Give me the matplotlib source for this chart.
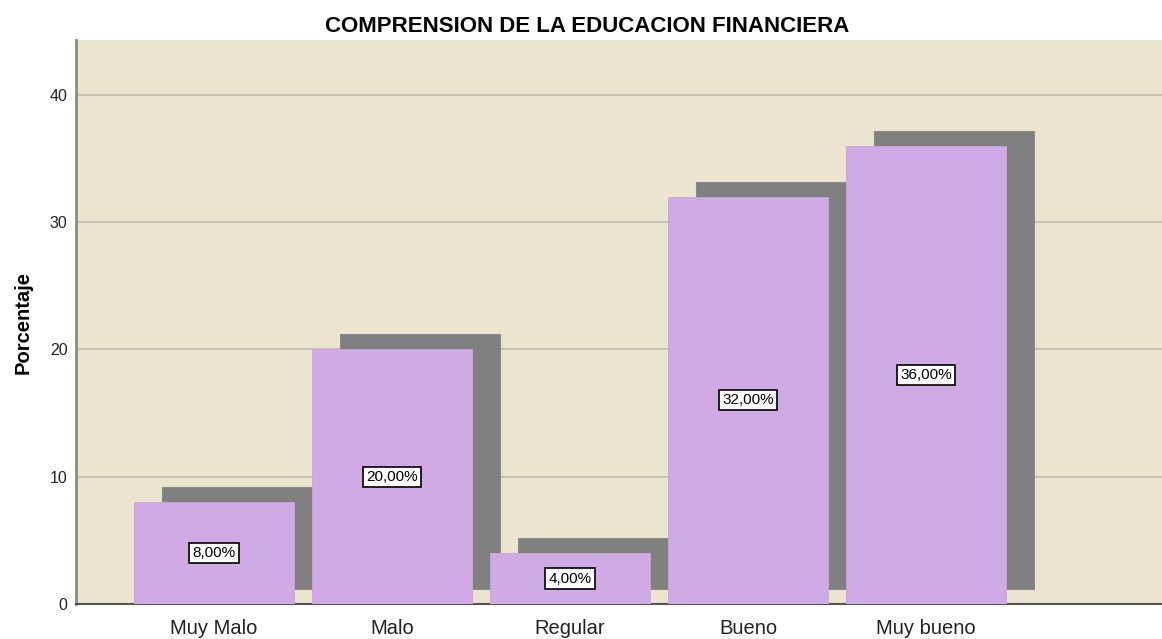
import matplotlib
matplotlib.use("Agg")
import matplotlib.pyplot as plt
from matplotlib.transforms import offset_copy

categories = ["Muy Malo", "Malo", "Regular", "Bueno", "Muy bueno"]
values = [8.0, 20.0, 4.0, 32.0, 36.0]
yticks = [0, 10, 20, 30, 40]

plt.rcParams['font.family'] = ['Liberation Sans', 'DejaVu Sans']

fig = plt.figure(figsize=(11.62, 6.39), dpi=100)
W, H = 1162, 639
ax = fig.add_axes([76 / W, (H - 604) / H, 1 - 76 / W, (604 - 40) / H])
ax.set_facecolor("#EBE5D0")

x = list(range(len(categories)))
shadow_tr = offset_copy(ax.transData, fig=fig, x=28, y=15, units='dots')
ax.bar(x, values, width=0.9, color="#808080", edgecolor="#8c8c8c", linewidth=0.8,
       transform=shadow_tr, zorder=2)
ax.bar(x, values, width=0.9, color="#D0AAE5", edgecolor="#C9A3DE", linewidth=0.6, zorder=3)

for xi, v in zip(x, values):
    ax.text(xi, v / 2, f"{v:.2f}".replace(".", ",") + "%", ha="center", va="center",
            fontsize=11, color="black", zorder=5,
            bbox=dict(boxstyle="square,pad=0.2", facecolor="white", edgecolor="black", linewidth=1.2))

ax.set_xlim(-0.775, 5.326)
ax.set_ylim(0, 44.32)
ax.set_yticks(yticks)
ax.set_yticklabels([str(t) for t in yticks], fontsize=11.5, color="#222222")
ax.set_xticks(x)
ax.set_xticklabels(categories, fontsize=14.5, color="#222222")
ax.tick_params(axis='both', length=0)
ax.tick_params(axis='y', pad=6)
ax.tick_params(axis='x', pad=11)

ax.yaxis.grid(True, color="#C8C3B3", linewidth=1.5, zorder=1)
ax.set_axisbelow(True)

for s in ["top", "right"]:
    ax.spines[s].set_visible(False)
ax.spines["left"].set_color("#8A8A8A")
ax.spines["left"].set_linewidth(2)
ax.spines["bottom"].set_color("#555555")
ax.spines["bottom"].set_linewidth(1.5)

ax.set_ylabel("Porcentaje", fontsize=14.5, fontweight="bold", labelpad=12)
fig.text(587 / W, 1 - 26 / H, "COMPRENSION DE LA EDUCACION FINANCIERA", ha="center", va="center",
         fontsize=16, fontweight="bold", color="black")

fig.savefig("out.png", dpi=100, facecolor="white")
